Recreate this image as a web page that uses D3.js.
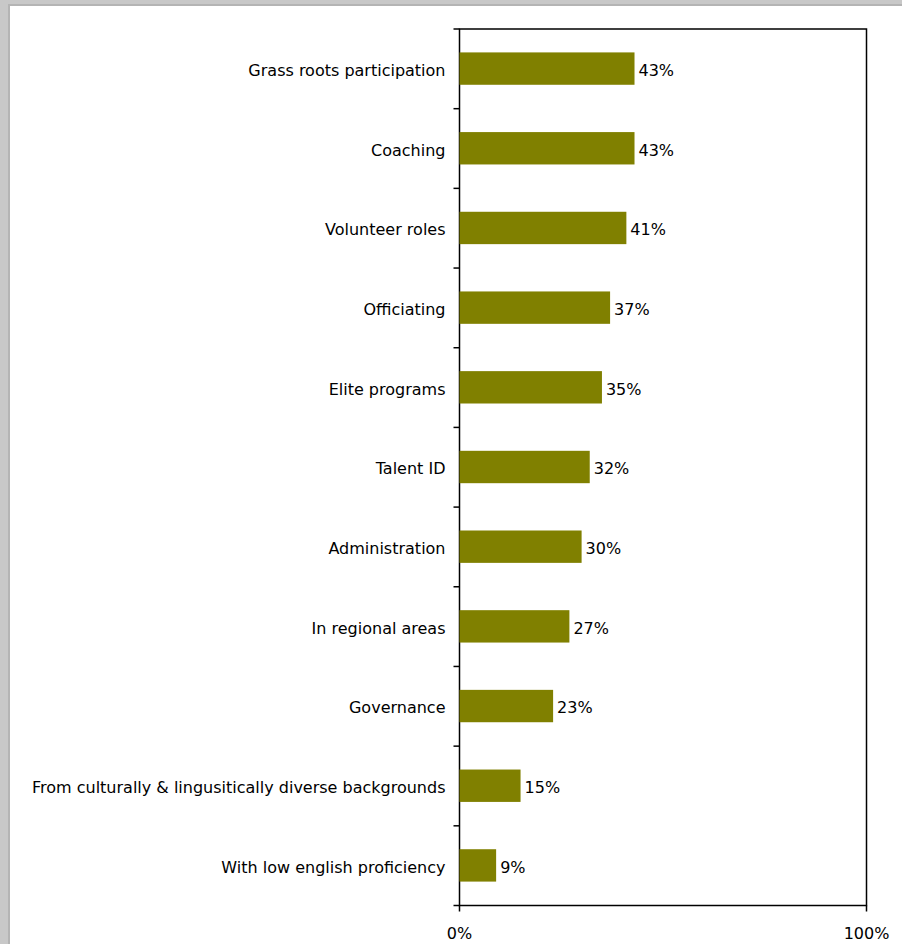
<!DOCTYPE html>
<html>
<head>
<meta charset="utf-8">
<script src="https://cdn.jsdelivr.net/npm/d3@7"></script>
<style>
body { margin: 0; background: #c8c8c8; }
svg { display: block; }
</style>
</head>
<body>
<div></div>
<script>
var categories = ["Grass roots participation", "Coaching", "Volunteer roles", "Officiating",
  "Elite programs", "Talent ID", "Administration", "In regional areas", "Governance",
  "From culturally & lingusitically diverse backgrounds", "With low english proficiency"]
var values = [43, 43, 41, 37, 35, 32, 30, 27, 23, 15, 9]
var xTicks = [0, 100]

var W = 902, H = 944
var plotL = 459.5, plotR = 866.5, plotT = 29, plotB = 905.5
var font = "Tahoma, 'DejaVu Sans', sans-serif"

var svg = d3.select("div").append("svg")
  .attr("width", W).attr("height", H)

// grey page frame
svg.append("rect").attr("x", 0).attr("y", 0).attr("width", W).attr("height", H).attr("fill", "#c8c8c8")
svg.append("rect").attr("x", 8).attr("y", 4).attr("width", W).attr("height", H).attr("fill", "#b4b4b4")
svg.append("rect").attr("x", 10).attr("y", 6).attr("width", W).attr("height", H).attr("fill", "#ffffff")

var x = d3.scaleLinear().domain([0, 100]).range([plotL, plotR])
var y = d3.scaleBand().domain(categories).range([plotT, plotB]).paddingInner(0.6).paddingOuter(0.3)
var yb = d3.scaleLinear().domain([0, categories.length]).range([plotT, plotB])

// plot border
svg.append("rect")
  .attr("x", plotL).attr("y", plotT)
  .attr("width", plotR - plotL).attr("height", plotB - plotT)
  .attr("fill", "none").attr("stroke", "#000").attr("stroke-width", 1.5)

// bars
svg.selectAll("rect.bar")
  .data(values)
  .enter()
  .append("rect")
  .attr("class", "bar")
  .attr("x", x(0))
  .attr("y", (d, i) => y(categories[i]) - 0.5)
  .attr("width", d => x(d) - x(0))
  .attr("height", y.bandwidth() + 0.5)
  .attr("fill", "#808000")

// value labels
svg.selectAll("text.val")
  .data(values)
  .enter()
  .append("text")
  .attr("class", "val")
  .attr("x", d => x(d) + 4)
  .attr("y", (d, i) => y(categories[i]) + y.bandwidth() / 2)
  .attr("dy", "0.44em")
  .attr("font-family", font).attr("font-size", 16)
  .text(d => d + "%")

// y ticks at category boundaries
svg.selectAll("line.ytick")
  .data(d3.range(categories.length + 1))
  .enter()
  .append("line")
  .attr("class", "ytick")
  .attr("x1", plotL - 6).attr("x2", plotL)
  .attr("y1", d => yb(d)).attr("y2", d => yb(d))
  .attr("stroke", "#000").attr("stroke-width", 1.5)

// category labels
svg.selectAll("text.cat")
  .data(categories)
  .enter()
  .append("text")
  .attr("class", "cat")
  .attr("x", plotL - 14)
  .attr("y", d => y(d) + y.bandwidth() / 2)
  .attr("dy", "0.44em")
  .attr("text-anchor", "end")
  .attr("font-family", font).attr("font-size", 16)
  .text(d => d)

// x axis ticks and labels
svg.selectAll("line.xtick")
  .data(xTicks)
  .enter()
  .append("line")
  .attr("class", "xtick")
  .attr("x1", d => x(d)).attr("x2", d => x(d))
  .attr("y1", plotB).attr("y2", plotB + 6)
  .attr("stroke", "#000").attr("stroke-width", 1.5)

svg.selectAll("text.xt")
  .data(xTicks)
  .enter()
  .append("text")
  .attr("class", "xt")
  .attr("x", d => x(d))
  .attr("y", plotB + 26)
  .attr("dy", "0.44em")
  .attr("text-anchor", "middle")
  .attr("font-family", font).attr("font-size", 16)
  .text(d => d + "%")
</script>
</body>
</html>
